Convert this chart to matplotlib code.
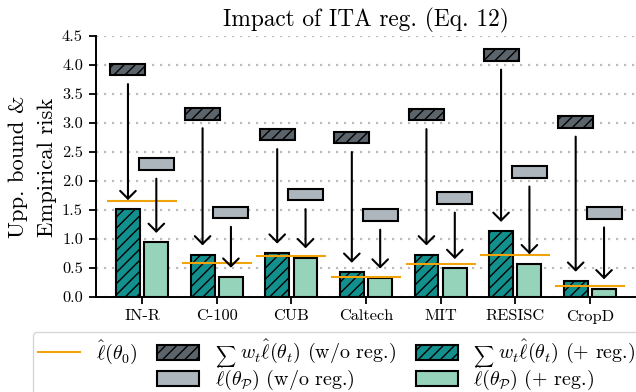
import numpy as np
import matplotlib
matplotlib.use("Agg")
import matplotlib.pyplot as plt
from matplotlib.patches import Patch
from matplotlib.lines import Line2D

plt.rcParams.update({
    "font.family": "serif",
    "font.serif": ["cmr10", "DejaVu Serif"],
    "mathtext.fontset": "cm",
    "axes.formatter.use_mathtext": True,
    "hatch.linewidth": 1.0,
})

datasets = ["IN-R", "C-100", "CUB", "Caltech", "MIT", "RESISC", "CropD"]
# empirical risk of the initial model
loss_init = [1.65, 0.587, 0.70, 0.345, 0.577, 0.72, 0.19]
# upper bound sum w_t l(theta_t)
bound_noreg = [3.92, 3.16, 2.80, 2.75, 3.145, 4.17, 3.015]
bound_reg = [1.51, 0.73, 0.76, 0.43, 0.73, 1.135, 0.276]
# merged model l(theta_P)
merged_noreg = [2.29, 1.46, 1.765, 1.41, 1.705, 2.155, 1.45]
merged_reg = [0.945, 0.345, 0.68, 0.33, 0.495, 0.577, 0.145]

C_TEAL = "#12908e"
C_GREEN = "#96d3bb"
C_DARK = "#5c646b"
C_GRAY = "#adb5bd"
C_ORANGE = "#f0a30a"

x = np.arange(len(datasets))
off, w, bw, bh = 0.19, 0.32, 0.47, 0.2

fig = plt.figure(figsize=(6.36, 3.92), dpi=100)
ax = fig.add_axes([95.5 / 636, 1 - 297 / 392, 541 / 636, 261 / 392])

ax.bar(x - off, bound_reg, w, color=C_TEAL, edgecolor="black", lw=1.5, hatch="///", zorder=3)
ax.bar(x + off, merged_reg, w, color=C_GREEN, edgecolor="black", lw=1.5, zorder=3)
ax.bar(x - off, bh, bw, bottom=np.array(bound_noreg) - bh / 2, color=C_DARK,
       edgecolor="black", lw=1.5, hatch="///", zorder=3)
ax.bar(x + off, bh, bw, bottom=np.array(merged_noreg) - bh / 2, color=C_GRAY,
       edgecolor="black", lw=1.5, zorder=3)
ax.hlines(loss_init, x - 0.47, x + 0.47, color=C_ORANGE, lw=1.5, zorder=4)

for i in range(len(datasets)):
    for xo, top, low in ((x[i] - off, bound_noreg[i], bound_reg[i]),
                         (x[i] + off, merged_noreg[i], merged_reg[i])):
        ax.annotate("", xy=(xo, low + 0.16), xytext=(xo, top - 0.25),
                    arrowprops=dict(arrowstyle="->,head_length=0.4,head_width=0.4",
                                    color="black", lw=1.5, mutation_scale=14,
                                    shrinkA=0, shrinkB=0),
                    zorder=5)

ax.set_xlim(-0.625, 6.625)
ax.set_ylim(0, 4.5)
yt = np.arange(0, 4.51, 0.5)
ax.set_yticks(yt)
ax.set_yticklabels([f"{v:.1f}" for v in yt], fontsize=11.8)
ax.set_xticks(x)
ax.set_xticklabels(datasets, fontsize=11.8)
ax.yaxis.grid(True, ls=(0, (1, 2.6)), lw=1.6, color="#bdbdbd", zorder=0)
ax.set_axisbelow(True)
for s in ("top", "right"):
    ax.spines[s].set_visible(False)
for s in ("left", "bottom"):
    ax.spines[s].set_linewidth(1.4)
ax.tick_params(width=1.3, length=5, pad=4)
fig.text(33 / 636, 1 - 167 / 392, "Upp. bound &\nEmpirical risk", rotation=90,
         ha="center", va="center", fontsize=16.3, linespacing=1.6, multialignment="center")
ax.set_title("Impact of ITA reg. (Eq. 12)", fontsize=16.8, pad=7)

handles = [
    Line2D([], [], color=C_ORANGE, lw=1.5),
    Patch(facecolor="none", edgecolor="none"),
    Patch(facecolor=C_DARK, edgecolor="black", lw=1.5, hatch="///"),
    Patch(facecolor=C_GRAY, edgecolor="black", lw=1.5),
    Patch(facecolor=C_TEAL, edgecolor="black", lw=1.5, hatch="///"),
    Patch(facecolor=C_GREEN, edgecolor="black", lw=1.5),
]
labels = [
    r"$\hat{\ell}(\theta_0)$", "",
    r"${}_{\sum}\, w_t \hat{\ell}(\theta_t)$ (w/o reg.)",
    r"$\hat{\ell}(\theta_{\mathcal{P}})$ (w/o reg.)",
    r"${}_{\sum}\, w_t \hat{\ell}(\theta_t)$ (+ reg.)",
    r"$\hat{\ell}(\theta_{\mathcal{P}})$ (+ reg.)",
]
fig.legend(handles, labels, ncol=3, loc="upper left", bbox_to_anchor=(33 / 636, 1 - 332 / 392),
           borderaxespad=0, fontsize=14.4, handlelength=2.1, handleheight=0.8,
           handletextpad=0.78, columnspacing=1.0, labelspacing=-0.3, borderpad=0.25,
           frameon=True, edgecolor="#cccccc", fancybox=True)

fig.savefig("out.png", dpi=100)
